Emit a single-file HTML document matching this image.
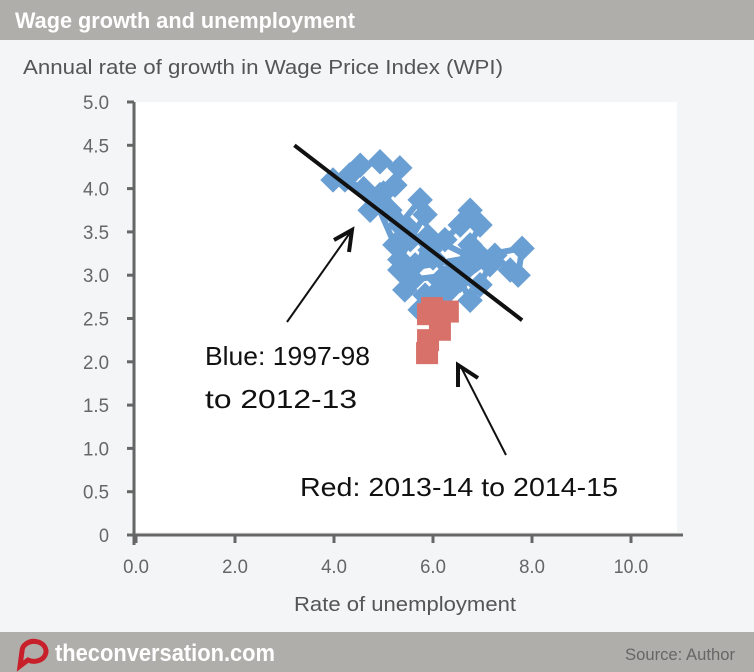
<!DOCTYPE html>
<html><head><meta charset="utf-8"><style>
body{margin:0;width:754px;height:672px;overflow:hidden;background:#f4f5f7;font-family:"Liberation Sans",sans-serif}
#hdr{position:absolute;left:0;top:0;width:754px;height:40px;background:#b0aeaa}
#ftr{position:absolute;left:0;top:632px;width:754px;height:40px;background:#b0aeaa}
</style></head><body>
<div id="hdr"></div>
<div id="ftr"></div>
<svg id="c" width="754" height="672" style="position:absolute;left:0;top:0"></svg>
<script>
const yTicks=[0,0.5,1.0,1.5,2.0,2.5,3.0,3.5,4.0,4.5,5.0];
const yTickLabels=["0","0.5","1.0","1.5","2.0","2.5","3.0","3.5","4.0","4.5","5.0"];
const xTicks=[0,2,4,6,8,10];
const xTickLabels=["0.0","2.0","4.0","6.0","8.0","10.0"];
const blueX=[3.98,4.32,4.53,4.93,5.33,5.23,4.93,4.73,5.13,5.33,5.74,5.84,5.54,5.33,5.64,5.94,6.24,6.55,6.75,6.95,6.75,6.44,6.14,5.84,5.74,6.04,6.34,6.65,6.95,7.15,6.95,6.75,6.55,7.25,7.56,7.72,7.80,5.33,5.43,5.23,4.83,4.22,4.6,5.0,5.5,6.0,6.3,5.6,5.9,6.8];
const blueY=[4.10,4.16,4.27,4.31,4.24,4.04,3.93,3.75,3.75,3.58,3.87,3.70,3.41,3.18,3.12,3.29,3.41,3.58,3.75,3.58,3.35,3.06,2.94,2.77,2.60,2.71,2.83,3.06,3.23,3.12,2.89,2.71,2.94,3.23,3.06,3.00,3.31,3.06,2.83,3.35,3.87,4.10,4.0,3.95,3.55,3.2,3.0,2.95,3.45,3.2];
const redX=[5.88,5.90,6.14,6.30,5.98,5.90];
const redY=[2.10,2.25,2.37,2.58,2.62,2.55];
const trendX=[3.2,7.8];
const trendY=[4.5,2.48];
const X=v=>136+v*49.5, Y=v=>535-v*86.6;
const s=document.getElementById('c'),NS='http://www.w3.org/2000/svg';
function mk(t,a,p){const e=document.createElementNS(NS,t);for(const k in a)e.setAttribute(k,a[k]);(p||s).appendChild(e);return e;}
function tx(str,a){const e=mk('text',a);e.textContent=str;return e;}
let e;
e=tx('Wage growth and unemployment',{x:15,y:28,'font-size':22,'font-weight':'bold',fill:'#fff',textLength:340,lengthAdjust:'spacingAndGlyphs'});

e=tx('Annual rate of growth in Wage Price Index (WPI)',{x:23,y:74,'font-size':20,fill:'#555',textLength:480,lengthAdjust:'spacingAndGlyphs'});

e=mk('rect',{x:136,y:102,width:541,height:430,fill:'#fff'});

e=mk('line',{x1:134,y1:102,x2:134,y2:545,stroke:'#666','stroke-width':3});

e=mk('line',{x1:130,y1:535,x2:683,y2:535,stroke:'#666','stroke-width':3});

yTicks.forEach((v,i)=>{
 mk('line',{x1:127,y1:Y(v),x2:134,y2:Y(v),stroke:'#666','stroke-width':3});
 const t=tx(yTickLabels[i],{x:109,y:Y(v)+7,'font-size':19,fill:'#666','text-anchor':'end',textLength:yTickLabels[i].length>1?26:10,lengthAdjust:'spacingAndGlyphs'});
 
});
xTicks.forEach((v,i)=>{
 mk('line',{x1:X(v),y1:535,x2:X(v),y2:543,stroke:'#666','stroke-width':3});
 const t=tx(xTickLabels[i],{x:X(v),y:573,'font-size':19,fill:'#666','text-anchor':'middle',textLength:xTickLabels[i].length*8.6,lengthAdjust:'spacingAndGlyphs'});
 
});
e=tx('Rate of unemployment',{x:405,y:611,'font-size':20,fill:'#555','text-anchor':'middle',textLength:222,lengthAdjust:'spacingAndGlyphs'});

e=mk('polyline',{points:blueX.map((v,i)=>X(v)+','+Y(blueY[i])).join(' '),fill:'none',stroke:'#6a9fd4','stroke-width':6,'stroke-linejoin':'round'});

blueX.forEach((v,i)=>{
 const p=mk('rect',{x:-9,y:-9,width:18,height:18,fill:'#6a9fd4',transform:`translate(${X(v)},${Y(blueY[i])}) rotate(45)`});
 
});
redX.forEach((v,i)=>{
 const p=mk('rect',{x:X(v)-11,y:Y(redY[i])-11,width:22,height:22,fill:'#d7716a'});
 
});
e=mk('line',{x1:X(trendX[0]),y1:Y(trendY[0]),x2:X(trendX[1]),y2:Y(trendY[1]),stroke:'#111','stroke-width':4});

e=mk('path',{d:'M287,322 L352,230',stroke:'#111','stroke-width':2,fill:'none'});

mk('path',{d:'M334,240 L352,230 L349,252',stroke:'#111','stroke-width':4,fill:'none'});
e=mk('path',{d:'M506,455 L460,365',stroke:'#111','stroke-width':2,fill:'none'});

mk('path',{d:'M458,387 L458,365 L478,378',stroke:'#111','stroke-width':4,fill:'none'});
e=tx('Blue: 1997-98',{x:205,y:365,'font-size':26,fill:'#111',textLength:165,lengthAdjust:'spacingAndGlyphs'});

e=tx('to 2012-13',{x:205,y:408,'font-size':26,fill:'#111',textLength:152,lengthAdjust:'spacingAndGlyphs'});

e=tx('Red: 2013-14 to 2014-15',{x:300,y:496,'font-size':26,fill:'#111',textLength:318,lengthAdjust:'spacingAndGlyphs'});

e=mk('path',{d:'M22,651 a12,10 0 1,1 6,9 l-8,6 z',fill:'none',stroke:'#c8202a','stroke-width':5});

e=tx('theconversation.com',{x:55,y:661,'font-size':24,fill:'#fff','font-weight':'bold',textLength:220,lengthAdjust:'spacingAndGlyphs'});

e=tx('Source: Author',{x:735,y:660,'font-size':17,fill:'#666','text-anchor':'end',textLength:110,lengthAdjust:'spacingAndGlyphs'});

</script>
</body></html>
